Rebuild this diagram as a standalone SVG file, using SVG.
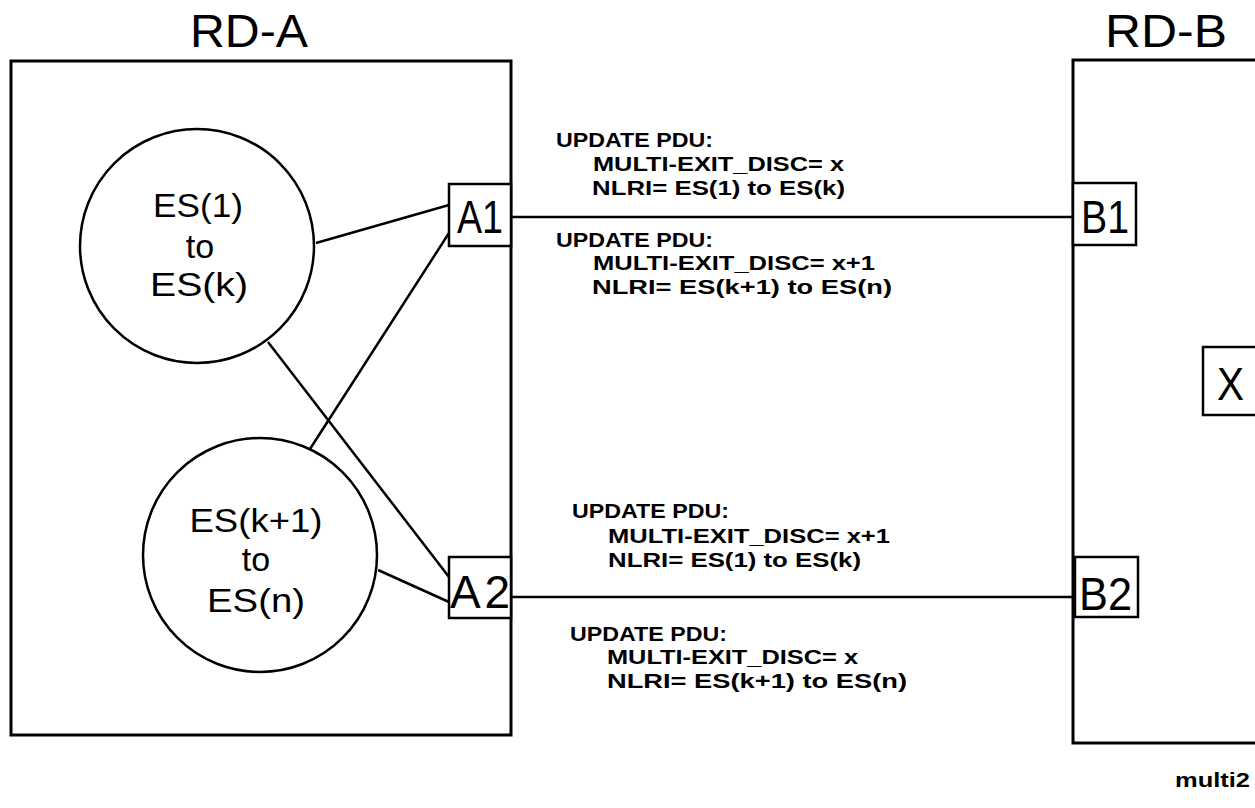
<svg xmlns="http://www.w3.org/2000/svg" width="1255" height="808" viewBox="0 0 1255 808">
<style>
.bx{fill:none;stroke:#000;stroke-width:3}
.nb{fill:#fff;stroke:#000;stroke-width:2.5}
.cl{fill:#fff;stroke:#000;stroke-width:2.5}
.ln{stroke:#000;stroke-width:2.5;fill:none}
.big{font-family:"Liberation Sans",Arial,sans-serif;font-size:46px;fill:#000}
.mid{font-family:"Liberation Sans",Arial,sans-serif;font-size:34px;fill:#000;text-anchor:middle}
.lbl{font-family:"Liberation Sans",Arial,sans-serif;font-weight:bold;font-size:20px;fill:#000}
</style>
<rect width="1255" height="808" fill="#fff"/>
<g id="rd-a">
<rect class="bx" x="11" y="61" width="500" height="674"/>
<text class="big" x="190" y="47" textLength="118" lengthAdjust="spacingAndGlyphs">RD-A</text>
</g>
<g id="rd-b">
<rect class="bx" x="1073" y="60" width="220" height="683"/>
<text class="big" x="1105" y="47" textLength="122" lengthAdjust="spacingAndGlyphs">RD-B</text>
</g>
<g id="connectors">
<line class="ln" x1="316" y1="243" x2="449" y2="205"/>
<line class="ln" x1="449" y1="233" x2="310" y2="449"/>
<line class="ln" x1="268" y1="342" x2="449" y2="577"/>
<line class="ln" x1="378" y1="570" x2="449" y2="602"/>
<line class="ln" x1="512" y1="217" x2="1073" y2="217"/>
<line class="ln" x1="512" y1="597" x2="1075" y2="597"/>
</g>
<g id="es1">
<circle class="cl" cx="197" cy="246" r="117"/>
<text class="mid" x="198" y="217" textLength="90" lengthAdjust="spacingAndGlyphs">ES(1)</text>
<text class="mid" x="200" y="258">to</text>
<text class="mid" x="199" y="296" textLength="98" lengthAdjust="spacingAndGlyphs">ES(k)</text>
</g>
<g id="es2">
<circle class="cl" cx="260" cy="555" r="117"/>
<text class="mid" x="256" y="532" textLength="133" lengthAdjust="spacingAndGlyphs">ES(k+1)</text>
<text class="mid" x="256" y="571">to</text>
<text class="mid" x="256" y="612" textLength="98" lengthAdjust="spacingAndGlyphs">ES(n)</text>
</g>
<g id="a1">
<rect class="nb" x="449" y="184" width="62" height="62"/>
<text class="big" x="457" y="233" textLength="46" lengthAdjust="spacingAndGlyphs">A1</text>
</g>
<g id="a2">
<rect class="nb" x="449" y="557" width="62" height="61"/>
<text class="big" x="450" y="608" textLength="60" lengthAdjust="spacing">A2</text>
</g>
<g id="b1">
<rect class="nb" x="1073" y="183" width="63" height="62"/>
<text class="big" x="1081" y="233" textLength="48" lengthAdjust="spacingAndGlyphs">B1</text>
</g>
<g id="b2">
<rect class="nb" x="1075" y="557" width="63" height="60"/>
<text class="big" x="1079" y="610" textLength="53" lengthAdjust="spacingAndGlyphs">B2</text>
</g>
<g id="x">
<rect class="nb" x="1203" y="347" width="70" height="68"/>
<text class="big" x="1217" y="400" textLength="27" lengthAdjust="spacingAndGlyphs">X</text>
</g>
<g id="msg1">
<text class="lbl" x="556" y="147" textLength="157" lengthAdjust="spacingAndGlyphs">UPDATE PDU:</text>
<text class="lbl" x="593" y="171" textLength="251" lengthAdjust="spacingAndGlyphs">MULTI-EXIT_DISC= x</text>
<text class="lbl" x="592" y="195" textLength="253" lengthAdjust="spacingAndGlyphs">NLRI= ES(1) to ES(k)</text>
</g>
<g id="msg2">
<text class="lbl" x="556" y="247" textLength="157" lengthAdjust="spacingAndGlyphs">UPDATE PDU:</text>
<text class="lbl" x="593" y="270" textLength="282" lengthAdjust="spacingAndGlyphs">MULTI-EXIT_DISC= x+1</text>
<text class="lbl" x="592" y="294" textLength="300" lengthAdjust="spacingAndGlyphs">NLRI= ES(k+1) to ES(n)</text>
</g>
<g id="msg3">
<text class="lbl" x="572" y="518" textLength="157" lengthAdjust="spacingAndGlyphs">UPDATE PDU:</text>
<text class="lbl" x="608" y="543" textLength="282" lengthAdjust="spacingAndGlyphs">MULTI-EXIT_DISC= x+1</text>
<text class="lbl" x="608" y="567" textLength="253" lengthAdjust="spacingAndGlyphs">NLRI= ES(1) to ES(k)</text>
</g>
<g id="msg4">
<text class="lbl" x="570" y="641" textLength="157" lengthAdjust="spacingAndGlyphs">UPDATE PDU:</text>
<text class="lbl" x="607" y="664" textLength="251" lengthAdjust="spacingAndGlyphs">MULTI-EXIT_DISC= x</text>
<text class="lbl" x="607" y="688" textLength="300" lengthAdjust="spacingAndGlyphs">NLRI= ES(k+1) to ES(n)</text>
</g>
<g id="caption">
<text class="lbl" x="1175" y="787" textLength="75" lengthAdjust="spacingAndGlyphs">multi2</text>
</g>
</svg>
